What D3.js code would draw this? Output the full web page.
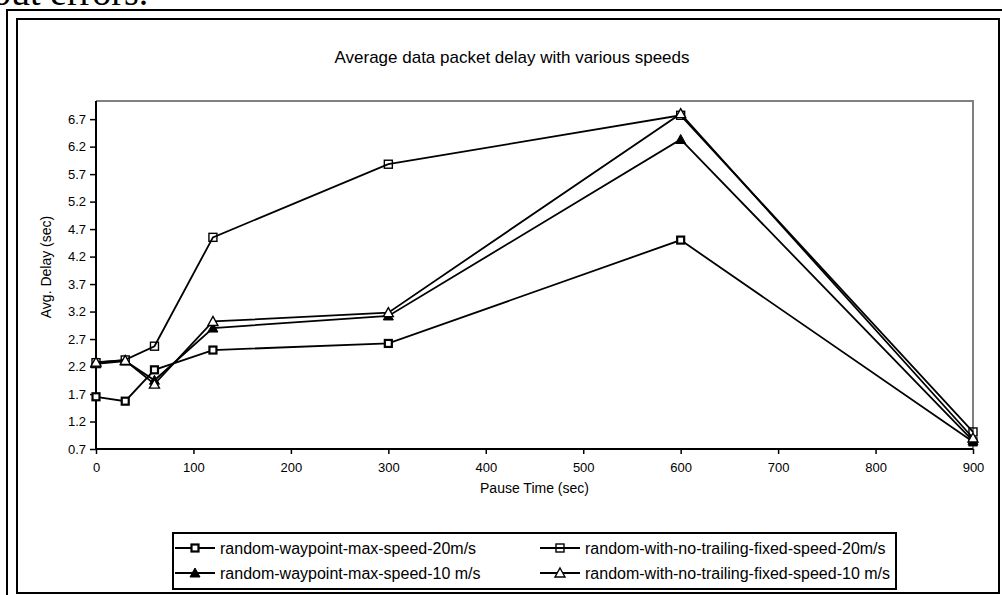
<!DOCTYPE html>
<html>
<head>
<meta charset="utf-8">
<script src="https://cdn.jsdelivr.net/npm/d3@7"></script>
<style>
  html, body { margin: 0; padding: 0; background: #fff; }
  svg { display: block; }
</style>
</head>
<body>
<svg id="chart" width="1002" height="595"></svg>
<script>
const pauseTimes = [0, 30, 60, 120, 300, 600, 900];
const seriesNames = [
  "random-waypoint-max-speed-20m/s",
  "random-with-no-trailing-fixed-speed-20m/s",
  "random-waypoint-max-speed-10 m/s",
  "random-with-no-trailing-fixed-speed-10 m/s"
];
const waypoint20 = [1.65, 1.57, 2.14, 2.50, 2.62, 4.50, 0.83];
const noTrailing20 = [2.27, 2.32, 2.57, 4.55, 5.88, 6.77, 1.01];
const waypoint10 = [2.25, 2.30, 1.95, 2.90, 3.12, 6.33, 0.85];
const noTrailing10 = [2.28, 2.31, 1.88, 3.02, 3.18, 6.80, 0.90];
const yTicks = [0.7, 1.2, 1.7, 2.2, 2.7, 3.2, 3.7, 4.2, 4.7, 5.2, 5.7, 6.2, 6.7];
const xTicks = [0, 100, 200, 300, 400, 500, 600, 700, 800, 900];

const series = [
  { name: seriesNames[0], values: waypoint20, marker: "squareThick" },
  { name: seriesNames[1], values: noTrailing20, marker: "squareOpen" },
  { name: seriesNames[2], values: waypoint10, marker: "triFilled" },
  { name: seriesNames[3], values: noTrailing10, marker: "triOpen" }
];

const svg = d3.select("#chart");
const font = "Arial, 'Liberation Sans', sans-serif";

// Page fragment above the chart (cut off at the top edge)
svg.append("text").attr("x", -8).attr("y", 5)
  .attr("font-family", "'Times New Roman', 'Liberation Serif', serif")
  .attr("font-size", 38).attr("fill", "#000").text("out errors.");

// frames
svg.append("path").attr("d", "M7,600 V10 H1010").attr("fill", "none").attr("stroke", "#000").attr("stroke-width", 2);
svg.append("rect").attr("x", 17).attr("y", 19).attr("width", 982).attr("height", 574)
  .attr("fill", "none").attr("stroke", "#000").attr("stroke-width", 2);

const x = d3.scaleLinear().domain([0, 900]).range([96, 973]);
const y = d3.scaleLinear().domain([0.7, 7.03]).range([449, 101]);

// plot area border (gray top/right)
svg.append("path")
  .attr("d", `M${x(0)},${y(7.03)} H${x(900)} V${y(0.7)}`)
  .attr("fill", "none").attr("stroke", "#808080").attr("stroke-width", 2);

// title
svg.append("text").attr("x", 512).attr("y", 63).attr("text-anchor", "middle")
  .attr("font-family", font).attr("font-size", 17).text("Average data packet delay with various speeds");

// y axis
const yAxis = d3.axisLeft(y).tickValues(yTicks).tickFormat(d3.format(".1f")).tickSize(6).tickPadding(4);
const gy = svg.append("g").attr("transform", `translate(${x(0)},0)`).call(yAxis);
gy.select(".domain").attr("stroke", "#000").attr("stroke-width", 2).attr("d", `M0,${y(7.03)}V${y(0.7)}`);
gy.selectAll(".tick line").attr("stroke", "#000").attr("stroke-width", 1.5);
gy.selectAll("text").attr("font-family", font).attr("font-size", 13).attr("fill", "#000");

// x axis
const xAxis = d3.axisBottom(x).tickValues(xTicks).tickFormat(d3.format("d")).tickSize(5).tickPadding(9);
const gx = svg.append("g").attr("transform", `translate(0,${y(0.7)})`).call(xAxis);
gx.select(".domain").attr("stroke", "#000").attr("stroke-width", 2).attr("d", `M${x(0)},0H${x(900)}`);
gx.selectAll(".tick line").attr("stroke", "#000").attr("stroke-width", 1.5);
gx.selectAll("text").attr("font-family", font).attr("font-size", 13).attr("fill", "#000");

// axis titles
svg.append("text").attr("transform", `translate(47,267) rotate(-90)`)
  .attr("text-anchor", "middle").attr("dominant-baseline", "middle")
  .attr("font-family", font).attr("font-size", 14).text("Avg. Delay (sec)");
svg.append("text").attr("x", (x(0) + x(900)) / 2).attr("y", 493).attr("text-anchor", "middle")
  .attr("font-family", font).attr("font-size", 14).text("Pause Time (sec)");

function drawMarker(g, type, cx, cy) {
  if (type === "squareThick") {
    g.append("rect").attr("x", cx - 3.5).attr("y", cy - 3.5).attr("width", 7).attr("height", 7)
      .attr("fill", "#fff").attr("stroke", "#000").attr("stroke-width", 2.2);
  } else if (type === "squareOpen") {
    g.append("rect").attr("x", cx - 4).attr("y", cy - 4).attr("width", 8).attr("height", 8)
      .attr("fill", "none").attr("stroke", "#000").attr("stroke-width", 1.4);
  } else if (type === "triFilled") {
    g.append("path").attr("d", `M${cx},${cy - 5}L${cx + 5},${cy + 4}L${cx - 5},${cy + 4}Z`)
      .attr("fill", "#000").attr("stroke", "#000").attr("stroke-width", 1);
  } else {
    g.append("path").attr("d", `M${cx},${cy - 5}L${cx + 5},${cy + 4}L${cx - 5},${cy + 4}Z`)
      .attr("fill", "#fff").attr("stroke", "#000").attr("stroke-width", 1.4);
  }
}

const line = d3.line().x((d, i) => x(pauseTimes[i])).y(d => y(d));
series.forEach(s => {
  svg.append("path").datum(s.values).attr("d", line)
    .attr("fill", "none").attr("stroke", "#000").attr("stroke-width", 1.8);
});
series.forEach(s => {
  const g = svg.append("g");
  s.values.forEach((v, i) => drawMarker(g, s.marker, x(pauseTimes[i]), y(v)));
});

// legend
svg.append("rect").attr("x", 173).attr("y", 533).attr("width", 723).attr("height", 56)
  .attr("fill", "#fff").attr("stroke", "#000").attr("stroke-width", 2);
const legendPos = [
  { lx: 175, ly: 548 }, { lx: 540, ly: 548 },
  { lx: 175, ly: 573 }, { lx: 540, ly: 573 }
];
series.forEach((s, i) => {
  const p = legendPos[i];
  const g = svg.append("g");
  g.append("line").attr("x1", p.lx).attr("x2", p.lx + 40).attr("y1", p.ly).attr("y2", p.ly)
    .attr("stroke", "#000").attr("stroke-width", 1.8);
  drawMarker(g, s.marker, p.lx + 20, p.ly);
  g.append("text").attr("x", p.lx + 45).attr("y", p.ly).attr("dominant-baseline", "central")
    .attr("font-family", font).attr("font-size", 16).text(s.name);
});
</script>
</body>
</html>
